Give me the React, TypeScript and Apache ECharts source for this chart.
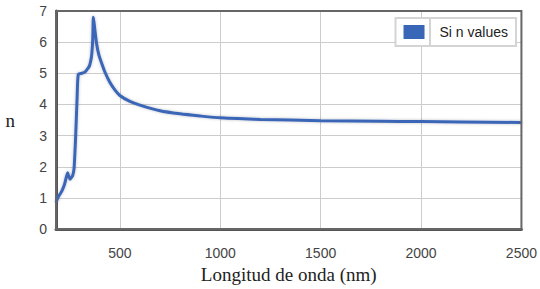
import React, { useEffect, useRef } from "react";
import * as echarts from "echarts";

const wavelengths = [182, 195, 211, 225, 240, 246, 252, 258, 265, 272, 280, 287, 293, 310, 326, 340, 348, 355, 360, 365, 368, 372, 376, 384, 395, 409, 425, 450, 475, 500, 550, 600, 700, 800, 900, 1000, 1200, 1500, 1800, 2000, 2200, 2500];
const nValues = [0.86, 1.05, 1.22, 1.45, 1.81, 1.68, 1.6, 1.65, 1.72, 1.95, 3.0, 4.2, 4.97, 5.0, 5.04, 5.15, 5.23, 5.4, 5.6, 6.1, 6.8, 6.6, 6.38, 5.96, 5.6, 5.33, 5.05, 4.71, 4.47, 4.29, 4.1, 3.98, 3.8, 3.7, 3.63, 3.57, 3.52, 3.48, 3.46, 3.45, 3.44, 3.42];
const xTicks = [500, 1000, 1500, 2000, 2500];
const seriesName = "Si n values";

const sans = "Liberation Sans, Arial, sans-serif";
const serif = "Liberation Serif, Times New Roman, serif";

export default function App() {
  const ref = useRef<HTMLDivElement>(null);
  useEffect(() => {
    document.body.style.margin = "0";
    const chart = echarts.init(ref.current!, null, { renderer: "svg" });
    chart.setOption({
      animation: false,
      backgroundColor: "#fff",
      grid: { left: 56, right: 16, top: 11, bottom: 55, show: true, borderColor: "#666", borderWidth: 2, backgroundColor: "transparent", z: 10 },
      legend: {
        data: [{ name: seriesName, icon: "rect" }],
        right: 24,
        top: 18,
        itemWidth: 21,
        itemHeight: 14,
        itemGap: 10,
        padding: [7, 8, 7, 8],
        borderColor: "#d4d4d4",
        borderWidth: 2,
        backgroundColor: "#fff",
        textStyle: { fontFamily: sans, fontSize: 14, color: "#222", padding: [0, 0, 0, 10] },
      },
      graphic: [
        { type: "line", shape: { x1: 430, y1: 19, x2: 430, y2: 46 }, style: { stroke: "#d4d4d4", lineWidth: 2 }, z: 100 },
      ],
      xAxis: [
        {
          type: "value",
          min: 182,
          max: 2500,
          name: "Longitud de onda (nm)",
          nameLocation: "middle",
          nameGap: 31,
          nameTextStyle: { fontFamily: serif, fontSize: 19, color: "#222" },
          axisLine: { show: true, onZero: false, lineStyle: { color: "#555", width: 3 } },
          axisTick: { show: false, customValues: xTicks },
          axisLabel: {
            customValues: xTicks,
            fontFamily: sans,
            fontSize: 14,
            color: "#444",
            margin: 17,
            formatter: (v: number) => String(v),
          },
          splitLine: { show: true, lineStyle: { color: "#ccc", width: 1 } },
        },
      ],
      yAxis: [
        {
          type: "value",
          min: 0,
          max: 7,
          interval: 1,
          name: "n",
          nameLocation: "middle",
          nameGap: 41,
          nameRotate: 0,
          nameTextStyle: { fontFamily: serif, fontSize: 19, color: "#222" },
          axisLine: { show: true, onZero: false, lineStyle: { color: "#555", width: 3 } },
          axisTick: { show: false },
          axisLabel: { fontFamily: sans, fontSize: 14, color: "#444", margin: 9 },
          splitLine: { show: true, lineStyle: { color: "#ccc", width: 1 } },
        },
      ],
      series: [
        {
          name: seriesName,
          type: "line",
          data: wavelengths.map((w, i) => [w, nValues[i]]),
          showSymbol: false,
          smooth: 0.2,
          color: "#3a66b8",
          lineStyle: { color: "#3a66b8", width: 3, shadowColor: "rgba(0,0,0,0.25)", shadowBlur: 3 },
        },
      ],
    });
    return () => chart.dispose();
  }, []);
  return <div ref={ref} style={{ width: 540, height: 289 }} />;
}
